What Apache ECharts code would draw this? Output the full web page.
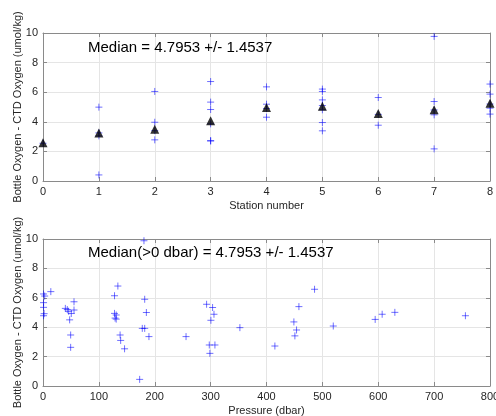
<!DOCTYPE html>
<html>
<head>
<meta charset="utf-8">
<script src="https://cdn.jsdelivr.net/npm/echarts@6/dist/echarts.min.js"></script>
<style>html,body{margin:0;padding:0;background:#fff;}#c{width:496px;height:416px;}</style>
</head>
<body>
<div id="c"></div>
<script>
// Top panel: per-station bottle-CTD differences (umol/kg)
const stations = [0, 1, 2, 3, 4, 5, 6, 7, 8];
const stationDiffs = [
  [2.55],
  [4.99, 3.25, 3.05, 0.41],
  [6.05, 3.97, 3.4, 2.78],
  [6.72, 5.33, 4.83, 3.86, 2.73, 2.70],
  [6.36, 5.19, 4.90, 4.31],
  [6.21, 6.05, 5.48, 5.10, 4.81, 3.95, 3.39],
  [5.64, 4.50, 3.77],
  [9.77, 5.37, 4.80, 4.47, 2.17],
  [6.55, 5.87, 5.20, 4.92, 4.52]
];
const stationMedians = [2.58, 3.25, 3.50, 4.07, 4.96, 5.05, 4.56, 4.81, 5.26];

// Bottom panel: pressure (dbar) vs difference (umol/kg)
const pressure = [1, 3, 1, 1, 2, 1, 14, 40, 43.5, 46, 50.6, 47.7, 55.5, 55.5, 49.5, 49.5,
  128, 134, 128, 131, 129, 131, 138, 139, 146,
  180.7, 182, 185, 177.7, 182, 189.6, 173, 256,
  292.8, 303.5, 306, 300.5, 297.6, 307.7, 298.7, 352.4, 415,
  449, 453.8, 450.8, 458, 486, 519.5, 594.5, 607, 629.7, 756];
const pressureDiffs = [6.26, 6.12, 5.67, 5.35, 4.92, 4.78, 6.42, 5.28, 5.2, 5.08, 4.93, 4.5, 5.73, 5.17, 3.47, 2.63,
  6.14, 6.8, 4.94, 4.83, 4.62, 4.55, 3.47, 3.1, 2.53,
  9.88, 5.9, 5.0, 3.92, 3.92, 3.36, 0.45, 3.36,
  5.56, 5.34, 4.88, 4.47, 2.79, 2.79, 2.22, 3.97, 2.72,
  4.36, 3.81, 3.41, 5.4, 6.58, 4.08, 4.53, 4.88, 5.01, 4.78];

const topText = 'Median = 4.7953 +/- 1.4537';
const bottomText = 'Median(>0 dbar) = 4.7953 +/- 1.4537';
const yName = 'Bottle Oxygen - CTD Oxygen (umol/kg)';

const stationPoints = [];
stationDiffs.forEach((arr, i) => arr.forEach(v => stationPoints.push([stations[i], v])));
const medianPoints = stations.map((s, i) => [s, stationMedians[i]]);
const pressurePoints = pressure.map((p, i) => [p, pressureDiffs[i]]);

const FONT = 'Liberation Sans, Arial, Helvetica, sans-serif';
const AX = '#8a8a8a';
const LBL = '#262626';
const plus = 'path://M0,5L10,5M5,0L5,10';

function mainX(gi, max, interval, name) {
  return {
    gridIndex: gi, type: 'value', min: 0, max: max, interval: interval, position: 'bottom',
    name: name, nameLocation: 'middle', nameGap: 19, nameMoveOverlap: false,
    nameTextStyle: {color: LBL, fontSize: 11, fontFamily: FONT},
    axisLine: {show: true, onZero: false, lineStyle: {color: AX, width: 1}},
    axisTick: {show: true, inside: true, length: 4, lineStyle: {color: AX}},
    axisLabel: {color: LBL, fontSize: 11, fontFamily: FONT, margin: 5},
    splitLine: {show: true, lineStyle: {color: '#e5e5e5', width: 1}}
  };
}
function secX(gi, max, interval) {
  return {
    gridIndex: gi, type: 'value', min: 0, max: max, interval: interval, position: 'top',
    axisLine: {show: true, onZero: false, lineStyle: {color: AX, width: 1}},
    axisTick: {show: true, inside: true, length: 4, lineStyle: {color: AX}},
    axisLabel: {show: false}, splitLine: {show: false}
  };
}
function mainY(gi) {
  return {
    gridIndex: gi, type: 'value', min: 0, max: 10, interval: 2, position: 'left',
    name: yName, nameLocation: 'middle', nameGap: 20, nameMoveOverlap: false,
    nameTextStyle: {color: LBL, fontSize: 11, fontFamily: FONT},
    axisLine: {show: true, onZero: false, lineStyle: {color: AX, width: 1}},
    axisTick: {show: true, inside: true, length: 4, lineStyle: {color: AX}},
    axisLabel: {color: LBL, fontSize: 11, fontFamily: FONT, margin: 5},
    splitLine: {show: true, lineStyle: {color: '#e5e5e5', width: 1}}
  };
}
function secY(gi) {
  return {
    gridIndex: gi, type: 'value', min: 0, max: 10, interval: 2, position: 'right',
    axisLine: {show: true, onZero: false, lineStyle: {color: AX, width: 1}},
    axisTick: {show: true, inside: true, length: 4, lineStyle: {color: AX}},
    axisLabel: {show: false}, splitLine: {show: false}
  };
}

const chart = echarts.init(document.getElementById('c'), null, {renderer: 'canvas'});
chart.setOption({
  animation: false,
  backgroundColor: '#fff',
  grid: [
    {left: 43, right: 6, top: 33, height: 148, containLabel: false, outerBoundsMode: 'none'},
    {left: 43, right: 6, top: 239, height: 147, containLabel: false, outerBoundsMode: 'none'}
  ],
  xAxis: [mainX(0, 8, 1, 'Station number'), secX(0, 8, 1), mainX(1, 800, 100, 'Pressure (dbar)'), secX(1, 800, 100)],
  yAxis: [mainY(0), secY(0), mainY(1), secY(1)],
  series: [
    {type: 'scatter', xAxisIndex: 0, yAxisIndex: 0, data: stationPoints, symbol: plus, symbolSize: 7,
      itemStyle: {color: 'none', borderColor: 'rgba(0,0,255,0.7)', borderWidth: 1}, z: 3},
    {type: 'scatter', xAxisIndex: 0, yAxisIndex: 0, data: medianPoints, symbol: 'triangle', symbolSize: 9,
      itemStyle: {color: '#000'}, z: 4},
    {type: 'scatter', xAxisIndex: 2, yAxisIndex: 2, data: pressurePoints, symbol: plus, symbolSize: 7,
      itemStyle: {color: 'none', borderColor: 'rgba(0,0,255,0.7)', borderWidth: 1}, z: 3}
  ],
  graphic: [
    {type: 'text', left: 88, top: 40, z: 100, style: {text: topText, fill: '#000', font: '15px ' + FONT}},
    {type: 'text', left: 88, top: 245, z: 100, style: {text: bottomText, fill: '#000', font: '15px ' + FONT}}
  ]
});
</script>
</body>
</html>
